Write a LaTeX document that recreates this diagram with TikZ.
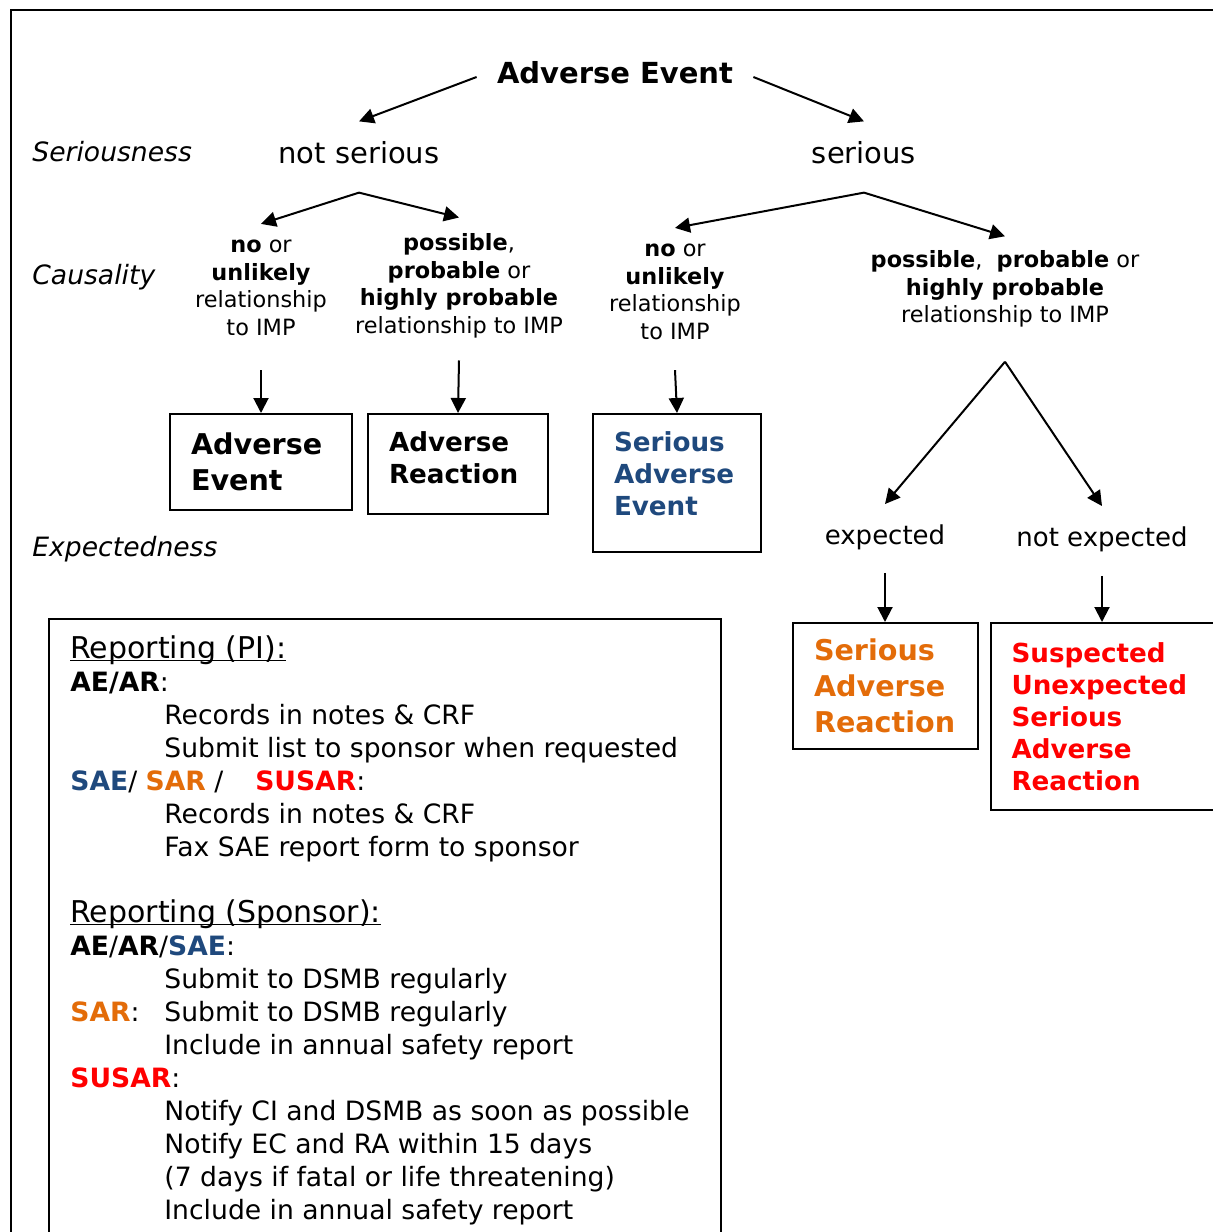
\documentclass[tikz,border=0pt]{standalone}
\usepackage{fontspec}
\setmainfont{DejaVu Sans}
\usetikzlibrary{arrows.meta,positioning}
\definecolor{saeblue}{HTML}{1F497D}
\definecolor{sarorange}{HTML}{E36C09}
\definecolor{susarred}{HTML}{FF0000}
\newcommand{\repind}{\hspace*{47pt}}
\newcommand{\repul}[1]{\setbox0\hbox{#1}\rlap{\rule[-1.4pt]{\wd0}{0.6pt}}\box0}

\begin{document}
\begin{tikzpicture}[
    x=0.5pt,y=-0.5pt,
    arr/.style={-{Triangle[length=7.5pt,width=7.5pt]},line width=1pt},
    rowlabel/.style={anchor=west,inner sep=0pt,font=\fontsize{13.3}{16}\selectfont\itshape},
    level/.style={inner sep=0pt,font=\fontsize{14.5}{17}\selectfont},
    cause/.style={inner sep=0pt,align=center,font=\fontsize{11.2}{13.75}\selectfont},
    expect/.style={inner sep=0pt,font=\fontsize{13}{16}\selectfont},
    outcome/.style={draw,line width=1pt,align=left,inner xsep=10.5pt,inner ysep=0pt,
      font=\bfseries\fontsize{13.1}{16}\selectfont},
    bigoutcome/.style={outcome,font=\bfseries\fontsize{14.3}{18}\selectfont}
  ]
  \useasboundingbox (0,0) rectangle (1213,1232);
  \draw[line width=1pt] (11,1240) -- (11,10) -- (1220,10);

  % levels
  \node[rowlabel] (lser) at (32,152) {Seriousness};
  \node[rowlabel] (lcau) at (32,277) {Causality};
  \node[rowlabel] (lexp) at (32,549) {Expectedness};

  \node[inner sep=0pt,font=\bfseries\fontsize{14.5}{17}\selectfont] (ae) at (615,73) {Adverse Event};
  \node[level] (notser) at (359,153) {not serious};
  \node[level] (ser) at (864,153) {serious};

  \node[cause] (nsno) at (261,288) {\textbf{no} or\\ \textbf{unlikely}\\ relationship\\ to IMP};
  \node[cause] (nspos) at (459,286) {\textbf{possible},\\ \textbf{probable} or\\ \textbf{highly probable}\\ relationship to IMP};
  \node[cause] (sno) at (675,292) {\textbf{no} or\\ \textbf{unlikely}\\ relationship\\ to IMP};
  \node[cause] (spos) at (1005,289) {\textbf{possible},\ \ \textbf{probable} or\\ \textbf{highly probable}\\ relationship to IMP};

  \node[expect] (expd) at (885,537) {expected};
  \node[expect] (nexpd) at (1102,539) {not expected};

  % outcomes
  \node[bigoutcome,minimum width=91pt,text width=70pt,minimum height=48pt] (ae2) at (261,462) {Adverse\\ Event};
  \node[outcome,minimum width=90pt,text width=69pt,minimum height=50pt,text depth=22pt] (ar) at (458,464) {Adverse\\ Reaction};
  \node[outcome,text=saeblue,minimum width=84pt,text width=63pt,minimum height=69pt,text depth=41pt] (sae) at (677,483) {Serious\\ Adverse\\ Event};
  \node[bigoutcome,text=sarorange,minimum width=92.5pt,text width=71.5pt,minimum height=63pt] (sar) at (885.5,686) {Serious\\ Adverse\\ Reaction};
  \node[outcome,text=susarred,minimum width=120pt,text width=99pt,minimum height=93.5pt] (susar) at (1110.5,716.5) {Suspected\\ Unexpected\\ Serious\\ Adverse\\ Reaction};

  % arrows
  \draw[arr] ([xshift=-10pt,yshift=-2pt]ae.west) -- ([yshift=10pt]notser.north);
  \draw[arr] ([xshift=10pt,yshift=-2pt]ae.east) -- ([yshift=10pt]ser.north);
  \draw[arr] ([yshift=-14pt]notser.south) -- ([yshift=8pt]nsno.north);
  \draw[arr] ([yshift=-14pt]notser.south) -- ([yshift=8pt]nspos.north);
  \draw[arr] ([yshift=-14pt]ser.south) -- ([yshift=8pt]sno.north);
  \draw[arr] ([yshift=-14pt]ser.south) -- ([yshift=7pt]spos.north);
  \draw[arr] ([yshift=-17pt]nsno.south) -- (ae2.north);
  \draw[arr] ([yshift=-11pt]nspos.south) -- (ar.north);
  \draw[arr] ([yshift=-15pt]sno.south) -- (sae.north);
  \draw[arr] ([yshift=-17pt]spos.south) -- ([yshift=10pt]expd.north);
  \draw[arr] ([yshift=-17pt]spos.south) -- ([yshift=10pt]nexpd.north);
  \draw[arr] ([yshift=-11.5pt]expd.south) -- (expd.south |- sar.north);
  \draw[arr] ([yshift=-12pt]nexpd.south) -- (nexpd.south |- susar.north);

  % reporting
  \draw[line width=1pt] (49,1250) -- (49,619) -- (721,619) -- (721,1250);
  \node[anchor=north west,inner sep=0pt,align=left,font=\fontsize{13.3}{16.5}\selectfont] (report) at (70,635) {%
    {\fontsize{15}{16.5}\selectfont\repul{Reporting (PI):}}\\
    \textbf{AE/AR}:\\
    \repind Records in notes \& CRF\\
    \repind Submit list to sponsor when requested\\
    \textbf{\color{saeblue}SAE}/ \textbf{\color{sarorange}SAR} /\hspace{1.2em}\textbf{\color{susarred}SUSAR}:\\
    \repind Records in notes \& CRF\\
    \repind Fax SAE report form to sponsor\\
    ~\\
    {\fontsize{15}{16.5}\selectfont\repul{Reporting (Sponsor):}}\\
    \textbf{AE}/\textbf{AR}/\textbf{\color{saeblue}SAE}:\\
    \repind Submit to DSMB regularly\\
    \makebox[47pt][l]{\textbf{\color{sarorange}SAR}:}Submit to DSMB regularly\\
    \repind Include in annual safety report\\
    \textbf{\color{susarred}SUSAR}:\\
    \repind Notify CI and DSMB as soon as possible\\
    \repind Notify EC and RA within 15 days\\
    \repind (7 days if fatal or life threatening)\\
    \repind Include in annual safety report};
\end{tikzpicture}
\end{document}
